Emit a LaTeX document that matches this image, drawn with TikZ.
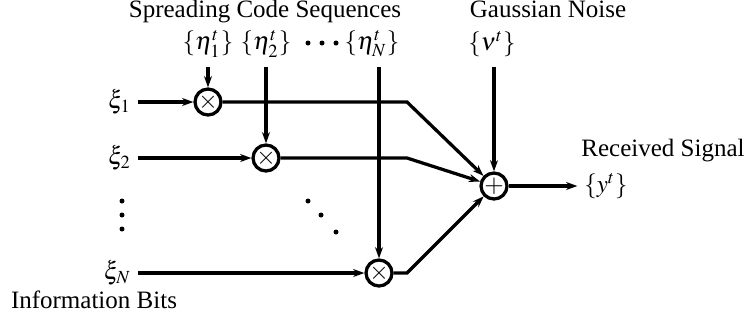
\documentclass[tikz,border=0pt]{standalone}
\usepackage{mathptmx}
\usepackage{fontspec}
\setmainfont{Liberation Serif}
\usetikzlibrary{arrows.meta, positioning}

\begin{document}
\begin{tikzpicture}[x=0.4pt, y=-0.4pt,
  mult/.style={circle, draw, line width=1.3pt, minimum size=10.4pt,
               inner sep=0pt, font=\normalsize},
  title/.style={font=\normalsize, inner sep=0pt, anchor=base},
  seq/.style={font=\normalsize, inner sep=1pt, outer ysep=3pt},
  bit/.style={font=\normalsize, inner sep=1pt, outer xsep=1.8pt, anchor=east},
  wire/.style={line width=1.3pt},
  arr/.style={-{Stealth[length=4.5pt, width=3.2pt]}, line width=1.3pt},
]
\useasboundingbox (0,0) rectangle (744,321);

% Titulos
\node[title] at (265,17)  (spread) {Spreading Code Sequences};
\node[title] at (548,17)  (noise)  {Gaussian Noise};
\node[title] at (663,156) (recv)   {Received Signal};
\node[title] at (94,308)  (info)   {Information Bits};

% Secuencias de codigo y ruido
\node[seq] at (208,44) (eta1) {$\{\eta_1^t\}$};
\node[seq] at (266,44) (eta2) {$\{\eta_2^t\}$};
\node[seq] at (372,44) (etaN) {$\{\eta_N^t\}$};
\node[seq] at (492,44) (nu)   {$\{\nu^t\}$};

% Bits de informacion
\node[bit] at (138,102) (xi1) {$\xi_1$};
\node[bit] at (138,158) (xi2) {$\xi_2$};
\node[bit] at (138,273) (xiN) {$\xi_N$};

% Multiplicadores y sumador
\node[mult] at (208,102) (m1)  {$\times$};
\node[mult] at (266,158) (m2)  {$\times$};
\node[mult] at (379,273) (mN)  {$\times$};
\node[mult] at (494,186) (add) {$+$};

% Salida
\node[bit, anchor=center] at (606,186) (out) {$\{y^t\}$};

% Quiebres de las lineas hacia el sumador
\coordinate (k1) at (407,102);
\coordinate (k2) at (407,158);
\coordinate (kN) at (407,273);

% Entradas a los multiplicadores
\draw[arr] (xi1) -- (m1);
\draw[arr] (xi2) -- (m2);
\draw[arr] (xiN) -- (mN);
\draw[arr] (eta1.south -| m1) -- (m1);
\draw[arr] (eta2.south -| m2) -- (m2);
\draw[arr] (etaN.south -| mN) -- (mN);

% Hacia el sumador
\draw[arr] (m1) -- (k1) -- (add);
\draw[arr] (m2) -- (k2) -- (add);
\draw[arr] (mN) -- (kN) -- (add);
\draw[arr] (nu.south -| add) -- (add);
\draw[arr] (add) -- (out);

% Puntos suspensivos
\fill (308,43) circle (1pt) (322,43) circle (1pt) (336,43) circle (1pt);
\fill (122,201) circle (1pt) (122,215) circle (1pt) (122,229) circle (1pt);
\fill (308,201) circle (1pt) (321,215) circle (1pt) (336,232) circle (1pt);

\end{tikzpicture}
\end{document}
